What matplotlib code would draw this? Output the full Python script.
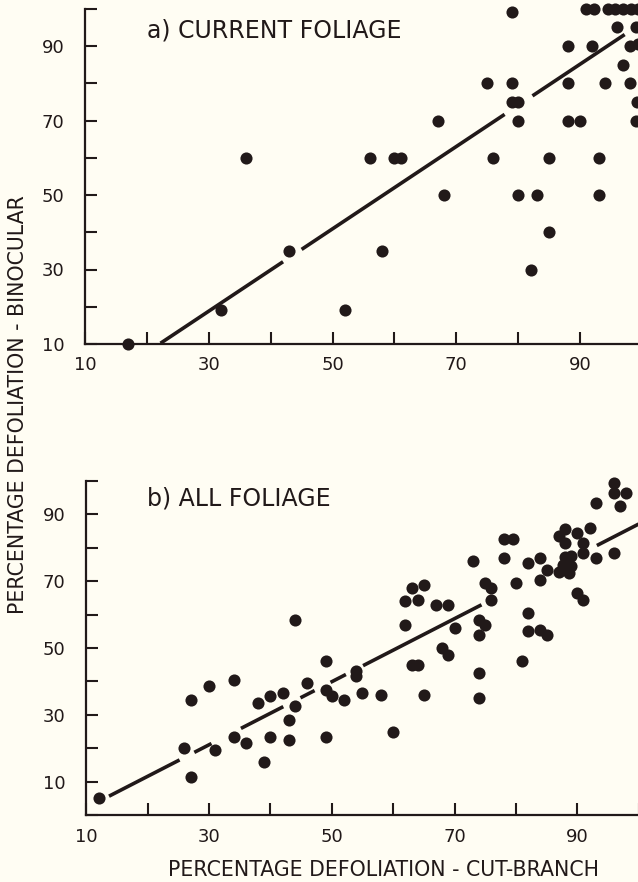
import matplotlib
matplotlib.use('Agg')
import matplotlib.pyplot as plt
import numpy as np

BG = '#fffdf3'
INK = '#211919'
plt.rcParams['font.family'] = ['DejaVu Sans']

# ---------------- data: panel a (current foliage) ----------------
a_x = [17, 32, 36, 43, 52, 56, 58, 60, 61, 67, 68, 75, 76, 79, 79, 79, 80,
       80, 80, 82, 83, 85, 85, 88, 88, 88, 90, 92, 93, 93, 94, 96, 97, 98,
       98, 99, 99.3, 99.2, 99.1,
       91, 92.2, 94.5, 95.7, 97, 98.2, 99.4]
a_y = [10, 19, 60, 35, 19, 60, 35, 60, 60, 70, 50, 80, 60, 99, 80, 75, 75,
       70, 50, 30, 50, 60, 40, 90, 80, 70, 70, 90, 60, 50, 80, 95, 85, 90,
       80, 95, 90.5, 75, 70,
       100, 100, 100, 100, 100, 100, 100]
a_fit = (-14.33, 1.105)          # intercept, slope of the fitted line
a_segments = [(22.2, 42.0), (45.0, 77.8), (82.3, 97.2)]

# ---------------- data: panel b (all foliage) ----------------
b_x = [12, 26, 27, 27, 30, 31, 34, 34, 36, 38, 39, 40, 40, 42, 43, 43, 44,
       44, 46, 49, 49, 49, 50, 52, 54, 54, 55, 58, 60, 62, 62, 63, 64, 65,
       67, 69, 63, 64, 65, 68, 69, 70, 73, 74, 75, 74, 74, 74, 75, 76, 76,
       78, 79.5, 78, 80, 81, 82, 82, 82, 84, 85, 84, 85, 84, 87, 88, 88, 90,
       91, 92, 91, 93, 93, 96, 96, 98, 97, 96, 90, 91,
       88, 89, 87.7, 89, 87, 88.7]
b_y = [5, 20, 11.5, 34.5, 38.5, 19.5, 40.5, 23.5, 21.5, 33.5, 16, 35.5,
       23.5, 36.5, 28.5, 22.5, 32.5, 58.5, 39.5, 46, 23.5, 37.5, 35.5, 34.5,
       43, 41.5, 36.5, 36, 25, 64, 57, 68, 64.5, 69, 63, 63, 45, 45, 36, 50,
       48, 56, 76, 58.5, 57, 54, 42.5, 35, 69.5, 68, 64.5, 82.5, 82.5, 77,
       69.5, 46, 75.5, 60.5, 55, 55.5, 54, 77, 73.5, 70.5, 83.5, 85.5, 81.5,
       84.5, 81.5, 86, 78.5, 77, 93.5, 99.5, 96.5, 96.5, 92.5, 78.5, 66.5,
       64.5,
       77.3, 77.5, 75, 74.5, 72.8, 72.5]
b_fit = (-7.3, 0.944)
b_segments = [(13.7, 25.2), (27.6, 30.4), (35.2, 42.1), (44.9, 47.2),
              (49.8, 52.3), (55.1, 74.4), (93.2, 100.0)]

x_ticks = list(range(10, 101, 10))
x_ticklabels = ['10', '', '30', '', '50', '', '70', '', '90', '']
a_yticks = list(range(10, 101, 10))
a_yticklabels = ['10', '', '30', '', '50', '', '70', '', '90', '']
b_yticks = list(range(0, 101, 10))
b_yticklabels = ['', '10', '', '30', '', '50', '', '70', '', '90', '']

titles = ['a) CURRENT FOLIAGE', 'b) ALL FOLIAGE']
xlabel = 'PERCENTAGE DEFOLIATION - CUT-BRANCH'
ylabel = 'PERCENTAGE DEFOLIATION - BINOCULAR'

W, H = 638, 882
fig = plt.figure(figsize=(W / 100, H / 100), dpi=100, facecolor=BG)
ax_a = fig.add_axes([85 / W, 1 - 344 / H, 557 / W, 335.25 / H])
ax_b = fig.add_axes([86.3 / W, 1 - 815 / H, 552.3 / W, 334 / H])


def style(ax, xlim, ylim, yticks, yticklabels):
    ax.set_facecolor(BG)
    ax.set_xlim(*xlim)
    ax.set_ylim(*ylim)
    for s in ('top', 'right'):
        ax.spines[s].set_visible(False)
    for s in ('left', 'bottom'):
        ax.spines[s].set_linewidth(1.6)
        ax.spines[s].set_color(INK)
    ax.set_xticks(x_ticks)
    ax.set_xticklabels(x_ticklabels)
    ax.set_yticks(yticks)
    ax.set_yticklabels(yticklabels)
    ax.tick_params(direction='in', length=8.5, width=1.5, color=INK,
                   labelcolor=INK, labelsize=13)
    ax.tick_params(axis='x', pad=9)
    ax.tick_params(axis='y', pad=15)


style(ax_a, (10, 100), (10, 100), a_yticks, a_yticklabels)
style(ax_b, (10, 100), (0, 100), b_yticks, b_yticklabels)

for ax, xs, ys, fit, segs in ((ax_a, a_x, a_y, a_fit, a_segments),
                              (ax_b, b_x, b_y, b_fit, b_segments)):
    b0, b1 = fit
    for x0, x1 in segs:
        sx = np.array([x0, x1])
        ax.plot(sx, b0 + b1 * sx, color=INK, lw=2.6, solid_capstyle='butt',
                zorder=2)
    ax.scatter(xs, ys, s=76, color=INK, linewidths=0, clip_on=False, zorder=3)

ax_a.text(0.111, 0.915, titles[0], transform=ax_a.transAxes, fontsize=17,
          color=INK, ha='left', va='baseline')
ax_b.text(0.109, 0.928, titles[1], transform=ax_b.transAxes, fontsize=17,
          color=INK, ha='left', va='baseline')

fig.text(384 / W, 1 - 876 / H, xlabel, fontsize=14.8, color=INK,
         ha='center', va='baseline')
fig.text(18 / W, 1 - 405 / H, ylabel, fontsize=14.8, color=INK, rotation=90,
         ha='center', va='center')

fig.savefig('out.png', dpi=100, facecolor=BG)
